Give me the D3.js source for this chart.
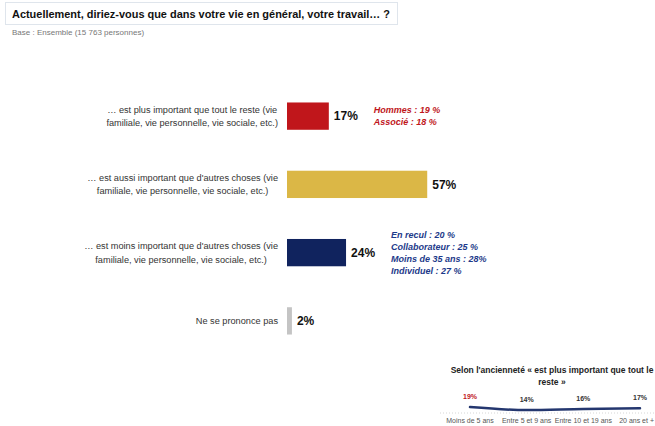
<!DOCTYPE html>
<html lang="fr">
<head>
<meta charset="utf-8">
<script src="https://cdn.jsdelivr.net/npm/d3@7"></script>
<style>
  html, body { margin: 0; padding: 0; background: #fff; }
  svg { display: block; font-family: "Liberation Sans", Arial, sans-serif; }
</style>
</head>
<body>
<svg id="chart" width="655" height="426"></svg>
<script>
// Main question: answers and shares (%)
const answers = [
  ["… est plus important que tout le reste (vie", "familiale, vie personnelle, vie sociale, etc.)"],
  ["… est aussi important que d'autres choses (vie", "familiale, vie personnelle, vie sociale, etc.)"],
  ["… est moins important que d'autres choses (vie", "familiale, vie personnelle, vie sociale, etc.)"],
  ["Ne se prononce pas"]
];
const shares = [17, 57, 24, 2];
const barColors = ["#c0161b", "#dbb746", "#10235e", "#c4c4c4"];

// Sub-group call-outs next to the first and third bars
const notesFirst = ["Hommes : 19 %", "Associé : 18 %"];
const notesThird = ["En recul : 20 %", "Collaborateur : 25 %", "Moins de 35 ans : 28%", "Individuel : 27 %"];

// Inset: "plus important que tout le reste" by seniority
const seniority = ["Moins de 5 ans", "Entre 5 et 9 ans", "Entre 10 et 19 ans", "20 ans et +"];
const seniorityShares = [19, 14, 16, 17];

const W = 655;
const svg = d3.select("#chart");

// Header
svg.append("rect")
  .attr("x", 5.5).attr("y", 2.5).attr("width", 392).attr("height", 22)
  .attr("fill", "none").attr("stroke", "#dfe5ec");
svg.append("text")
  .attr("x", 12).attr("y", 17.5)
  .attr("font-size", 11).attr("font-weight", "bold").attr("fill", "#111")
  .attr("textLength", 378).attr("lengthAdjust", "spacingAndGlyphs")
  .text("Actuellement, diriez-vous que dans votre vie en général, votre travail… ?");
svg.append("text")
  .attr("x", 12).attr("y", 34.5)
  .attr("font-size", 8).attr("fill", "#777")
  .text("Base : Ensemble (15 763 personnes)");

// Scales for the main bars
const y = d3.scaleBand()
  .domain(d3.range(shares.length))
  .range([82, 355])
  .paddingInner(0.6)
  .paddingOuter(0.3);
const x = d3.scaleLinear().domain([0, 100]).range([287, 533]);

const rows = svg.append("g").selectAll("g")
  .data(shares.map((v, i) => ({ v, i, lines: answers[i], color: barColors[i] })))
  .join("g");

rows.append("rect")
  .attr("x", x(0))
  .attr("y", d => y(d.i))
  .attr("width", d => x(d.v) - x(0))
  .attr("height", y.bandwidth())
  .attr("fill", d => d.color);

rows.append("text")
  .attr("x", d => x(d.v) + 5)
  .attr("y", d => y(d.i) + y.bandwidth() / 2)
  .attr("dy", "0.36em")
  .attr("font-size", 12).attr("font-weight", "bold").attr("fill", "#111")
  .text(d => d.v + "%");

// Category labels: block right-aligned to the bars, lines centred in the block
const labelRight = 278;
const lineGap = 13.5;
rows.each(function(d) {
  const g = d3.select(this);
  const cy = y(d.i) + y.bandwidth() / 2;
  const t = g.append("text")
    .attr("font-size", 9.2).attr("fill", "#333")
    .attr("text-anchor", "middle");
  const spans = t.selectAll("tspan").data(d.lines).join("tspan")
    .attr("y", (l, k) => cy + (k - (d.lines.length - 1) / 2) * lineGap)
    .attr("dy", "0.35em")
    .text(l => l);
  let w = 0;
  spans.each(function() { w = Math.max(w, this.getComputedTextLength()); });
  spans.attr("x", labelRight - w / 2);
});

// Call-outs
function callout(notes, idx, color) {
  const cy = y(idx) + y.bandwidth() / 2;
  svg.append("g").selectAll("text").data(notes).join("text")
    .attr("x", x(shares[idx]) + 45)
    .attr("y", (n, k) => cy + (k - (notes.length - 1) / 2) * 12)
    .attr("dy", "0.36em")
    .attr("font-size", 9).attr("font-weight", "bold").attr("font-style", "italic")
    .attr("fill", color)
    .text(n => n);
}
callout(notesFirst, 0, "#c0161b");
callout(notesThird, 2, "#1d3a8a");

// Inset line chart
const inset = svg.append("g");
inset.append("text")
  .attr("text-anchor", "middle").attr("font-size", 8.5).attr("font-weight", "bold").attr("fill", "#222")
  .selectAll("tspan")
  .data(["Selon l'ancienneté « est plus important que tout le", "reste »"])
  .join("tspan")
  .attr("x", 552)
  .attr("y", (l, k) => 373 + k * 12)
  .text(l => l);

const sx = d3.scalePoint().domain(seniority).range([470, 640]);
const sy = d3.scaleLinear().domain([0, 100]).range([418.5, 358.5]);

inset.append("line")
  .attr("x1", 440).attr("x2", W).attr("y1", 413).attr("y2", 413)
  .attr("stroke", "#d6d6d6").attr("stroke-width", 1).attr("stroke-dasharray", "1,2");

inset.append("path")
  .datum(seniorityShares.map((v, i) => [sx(seniority[i]), sy(v)]))
  .attr("fill", "none").attr("stroke", "#24376f").attr("stroke-width", 2.5)
  .attr("stroke-linecap", "round")
  .attr("d", d3.line().curve(d3.curveMonotoneX));

inset.append("g").selectAll("text").data(seniorityShares).join("text")
  .attr("x", (v, i) => sx(seniority[i]))
  .attr("y", v => sy(v) - 8)
  .attr("text-anchor", "middle")
  .attr("font-size", 7).attr("font-weight", "bold")
  .attr("fill", (v, i) => i === 0 ? "#c0161b" : "#333")
  .text(v => v + "%");

// Category labels under the line; the last one is kept inside the frame
inset.append("g").selectAll("text").data(seniority).join("text")
  .attr("y", 423)
  .attr("text-anchor", "middle")
  .attr("font-size", 7).attr("fill", "#555")
  .text(s => s)
  .each(function(s) {
    const half = this.getComputedTextLength() / 2;
    d3.select(this).attr("x", Math.min(sx(s), W - 1 - half));
  });
</script>
</body>
</html>
